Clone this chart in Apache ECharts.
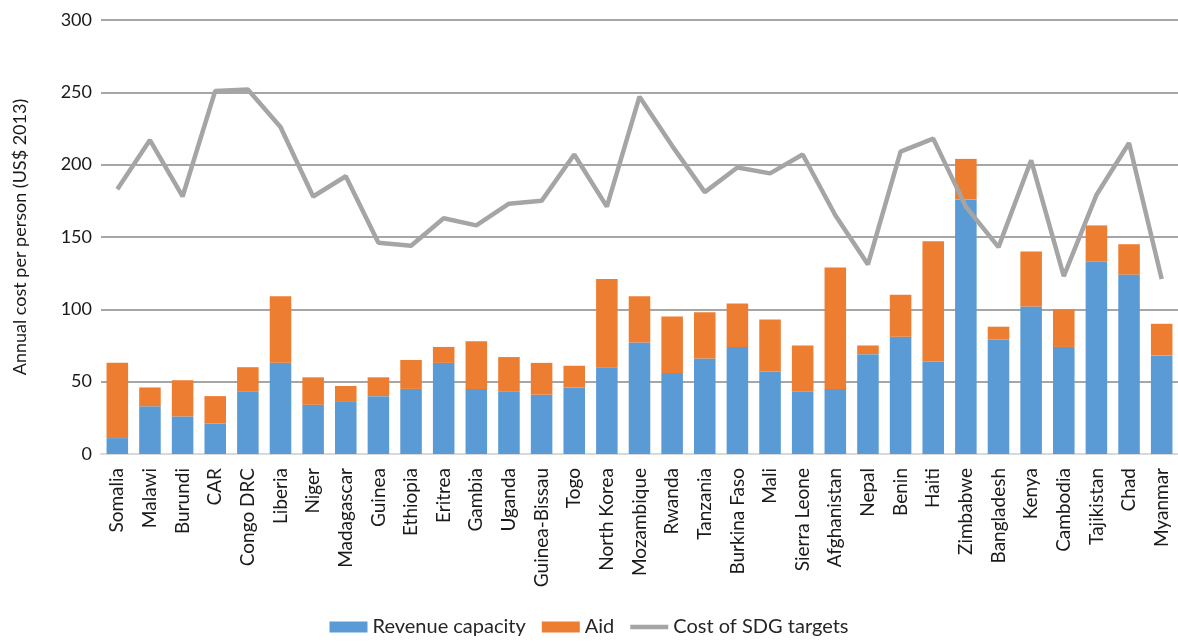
<!DOCTYPE html>
<html>
<head>
<meta charset="utf-8">
<script src="https://cdn.jsdelivr.net/npm/echarts@6/dist/echarts.min.js"></script>
<style>
  html, body { margin: 0; padding: 0; background: #fff; }
  #chart { width: 1178px; height: 644px; }
</style>
</head>
<body>
<div id="chart"></div>
<script>
// countries, left to right
var countries = ['Somalia', 'Malawi', 'Burundi', 'CAR', 'Congo DRC', 'Liberia', 'Niger', 'Madagascar',
  'Guinea', 'Ethiopia', 'Eritrea', 'Gambia', 'Uganda', 'Guinea-Bissau', 'Togo', 'North Korea',
  'Mozambique', 'Rwanda', 'Tanzania', 'Burkina Faso', 'Mali', 'Sierra Leone', 'Afghanistan', 'Nepal',
  'Benin', 'Haiti', 'Zimbabwe', 'Bangladesh', 'Kenya', 'Cambodia', 'Tajikistan', 'Chad', 'Myanmar']

// US$ per person (2013)
var revenue = [11, 33, 26, 21, 43, 63, 34, 36, 40, 45, 63, 45, 43, 41, 46, 60,
  77, 56, 66, 74, 57, 43, 45, 69, 81, 64, 176, 79, 102, 74, 133, 124, 68]
var aid = [52, 13, 25, 19, 17, 46, 19, 11, 13, 20, 11, 33, 24, 22, 15, 61,
  32, 39, 32, 30, 36, 32, 84, 6, 29, 83, 28, 9, 38, 26, 25, 21, 22]
var sdgCost = [183, 217, 178, 251, 252, 226, 178, 192, 146, 144, 163, 158, 173, 175, 207, 171,
  247, 213, 181, 198, 194, 207, 165, 131, 209, 218, 171, 143, 203, 123, 179, 215, 121]

var yTicks = [0, 50, 100, 150, 200, 250, 300]

var font = 'Lato, "Open Sans", sans-serif'
var myChart = echarts.init(document.getElementById('chart'))

myChart.setOption({
  animation: false,
  textStyle: { fontFamily: font },
  grid: { left: 101, right: 0, top: 20, bottom: 190, containLabel: false },
  legend: {
    bottom: 2,
    left: 'center',
    itemWidth: 38,
    itemHeight: 11,
    itemGap: 16,
    symbolKeepAspect: true,
    textStyle: { fontSize: 20, color: '#262626', fontFamily: font },
    data: [
      { name: 'Revenue capacity', icon: 'rect' },
      { name: 'Aid', icon: 'rect' },
      { name: 'Cost of SDG targets', icon: 'path://M0,0 L38,0 L38,4.5 L0,4.5 Z', itemStyle: { color: '#a5a5a5' } }
    ]
  },
  xAxis: {
    type: 'category',
    data: countries,
    axisLine: { lineStyle: { color: '#d9d9d9', width: 2 } },
    axisTick: { show: false },
    axisLabel: { rotate: 90, fontSize: 19, color: '#1a1a1a', margin: 14, interval: 0 }
  },
  yAxis: {
    type: 'value',
    min: yTicks[0],
    max: yTicks[yTicks.length - 1],
    interval: 50,
    name: 'Annual cost per person (US$ 2013)',
    nameLocation: 'middle',
    nameGap: 72,
    nameTextStyle: { fontSize: 18, color: '#1a1a1a' },
    axisLine: { show: false },
    axisTick: { show: false },
    axisLabel: { fontSize: 18, color: '#1a1a1a', margin: 9 },
    splitLine: { lineStyle: { color: '#a6a6a6', width: 2 } }
  },
  series: [
    {
      name: 'Revenue capacity',
      type: 'bar',
      stack: 'total',
      data: revenue,
      barCategoryGap: '34%',
      itemStyle: { color: '#5b9bd5' }
    },
    {
      name: 'Aid',
      type: 'bar',
      stack: 'total',
      data: aid,
      itemStyle: { color: '#ed7d31' }
    },
    {
      name: 'Cost of SDG targets',
      type: 'line',
      data: sdgCost,
      symbol: 'none',
      z: 5,
      itemStyle: { color: '#a5a5a5' },
      lineStyle: { color: '#a5a5a5', width: 4.5 }
    }
  ]
})
</script>
</body>
</html>
